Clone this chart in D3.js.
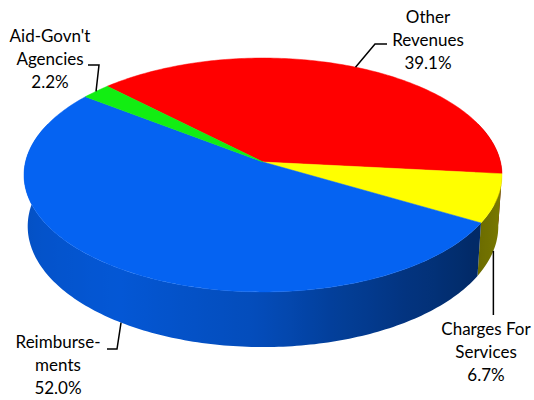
<!DOCTYPE html>
<html>
<head>
<meta charset="utf-8">
<script src="https://cdn.jsdelivr.net/npm/d3@7"></script>
<style>
  body { margin: 0; background: #fff; }
  text { font-family: Lato, sans-serif; font-size: 17px; fill: #000; }
</style>
</head>
<body>
<svg id="chart" width="534" height="400"></svg>
<script>
// data
const categories = ["Other Revenues", "Charges For Services", "Reimbursements", "Aid-Govn't Agencies"];
const values = [39.1, 6.7, 52.0, 2.2];
const labelLines = [["Other", "Revenues"], ["Charges For", "Services"], ["Reimburse-", "ments"], ["Aid-Govn't", "Agencies"]];
const colors = ["#ff0000", "#ffff00", "#0563f2", "#12ee12"];

// layout
const cx = 263, cy = 162, R = 237.5;
const tilt = 29.1 * Math.PI / 180, sinE = Math.sin(tilt), cosE = Math.cos(tilt);
const dist = 7.87, depth = 0.25;
const labelPos = [[428, 23], [486, 335], [58, 348], [50, 42]];
const lineGap = 23;
// elbow points of the leader lines, from text side to the slice (null = anchor x)
const leaders = [[[387, 44], [375, 44]], [[null, 315]], [[107, 349], [117, 349]], [[88, 65], [99, 65]]];

const svg = d3.select("#chart");
const defs = svg.append("defs");

// t: angle on the disc (0 = right, clockwise on screen), y: 0 = top face, -depth = bottom
function project(t, y) {
  let X = Math.cos(t), Z = Math.sin(t);
  let ys = Z * sinE - y * cosE;
  let zc = Z * cosE + y * sinE;
  let k = dist / (dist - zc);
  return [cx + R * X * k, cy + R * ys * k, zc];
}

const pie = d3.pie().sort(null).value(d => d)
  .startAngle(-Math.PI / 4).endAngle(-Math.PI / 4 + 2 * Math.PI);
const arcs = pie(values).map((a, i) => ({
  i: i,
  t0: a.startAngle - Math.PI / 2,
  t1: a.endAngle - Math.PI / 2
}));

// side shading by angle (degrees)
const shade = d3.scaleLinear()
  .domain([-20, 10, 32, 57, 75, 91, 123, 168, 200])
  .range([0.4, 0.48, 0.42, 0.53, 0.64, 0.77, 0.88, 0.81, 0.8])
  .clamp(true);

function darker(col, f) {
  let c = d3.rgb(col);
  return d3.rgb(c.r * f, c.g * f, c.b * f).formatHex();
}

const line = d3.line();
const deg = Math.PI / 180;
const lo = -20 * deg, hi = 200 * deg;
const xLeft = project(Math.PI, 0)[0] - 5, xRight = project(0, 0)[0] + 5;

// one gradient per slice colour, running along x
colors.forEach((col, i) => {
  let g = defs.append("linearGradient")
    .attr("id", "side" + i)
    .attr("gradientUnits", "userSpaceOnUse")
    .attr("x1", xLeft).attr("x2", xRight).attr("y1", 0).attr("y2", 0);
  let stops = [];
  for (let d = 180; d >= 0; d -= 3) {
    let x = project(d * deg, -depth / 2)[0];
    stops.push([(x - xLeft) / (xRight - xLeft), darker(col, shade(d))]);
  }
  g.selectAll("stop").data(stops).join("stop")
    .attr("offset", d => Math.max(0, Math.min(1, d[0])))
    .attr("stop-color", d => d[1]);
});

// side walls
let sides = [];
arcs.forEach(a => {
  [0, -2 * Math.PI, 2 * Math.PI].forEach(off => {
    let s = Math.max(a.t0 + off, lo), e = Math.min(a.t1 + off, hi);
    if (e <= s) return;
    let n = Math.max(2, Math.ceil((e - s) / deg));
    let top = [], bot = [];
    for (let j = 0; j <= n; j++) {
      let u = s + (e - s) * j / n;
      let p = project(u, 0), q = project(u, -depth);
      top.push([p[0], p[1]]);
      bot.push([q[0], q[1]]);
    }
    sides.push({ i: a.i, pts: top.concat(bot.reverse()), z: Math.sin((s + e) / 2) });
  });
});
sides.sort((a, b) => a.z - b.z);

svg.append("g").selectAll("path").data(sides).join("path")
  .attr("d", d => line(d.pts) + "Z")
  .attr("fill", d => "url(#side" + d.i + ")");

// top face
svg.append("g").selectAll("path").data(arcs).join("path")
  .attr("d", a => {
    let pts = [[cx, cy]];
    let n = Math.max(2, Math.ceil((a.t1 - a.t0) / deg));
    for (let j = 0; j <= n; j++) {
      let p = project(a.t0 + (a.t1 - a.t0) * j / n, 0);
      pts.push([p[0], p[1]]);
    }
    return line(pts) + "Z";
  })
  .attr("fill", a => colors[a.i])
  .attr("stroke", a => colors[a.i])
  .attr("stroke-width", 0.5);

// labels and leader lines
const gl = svg.append("g");
arcs.forEach(a => {
  let tm = (a.t0 + a.t1) / 2;
  let anchor = project(tm, Math.sin(tm) > 0 ? -depth : 0);
  let pts = leaders[a.i].map(p => [p[0] === null ? anchor[0] : p[0], p[1]]);
  pts.push([anchor[0], anchor[1]]);
  gl.append("path")
    .attr("d", line(pts))
    .attr("fill", "none")
    .attr("stroke", "#000")
    .attr("stroke-width", 1.5);

  let lines = labelLines[a.i].concat([values[a.i].toFixed(1) + "%"]);
  let txt = gl.append("text")
    .attr("text-anchor", "middle")
    .attr("x", labelPos[a.i][0])
    .attr("y", labelPos[a.i][1]);
  lines.forEach((s, j) => {
    txt.append("tspan")
      .attr("x", labelPos[a.i][0])
      .attr("dy", j === 0 ? 0 : lineGap)
      .text(s);
  });
});
</script>
</body>
</html>
